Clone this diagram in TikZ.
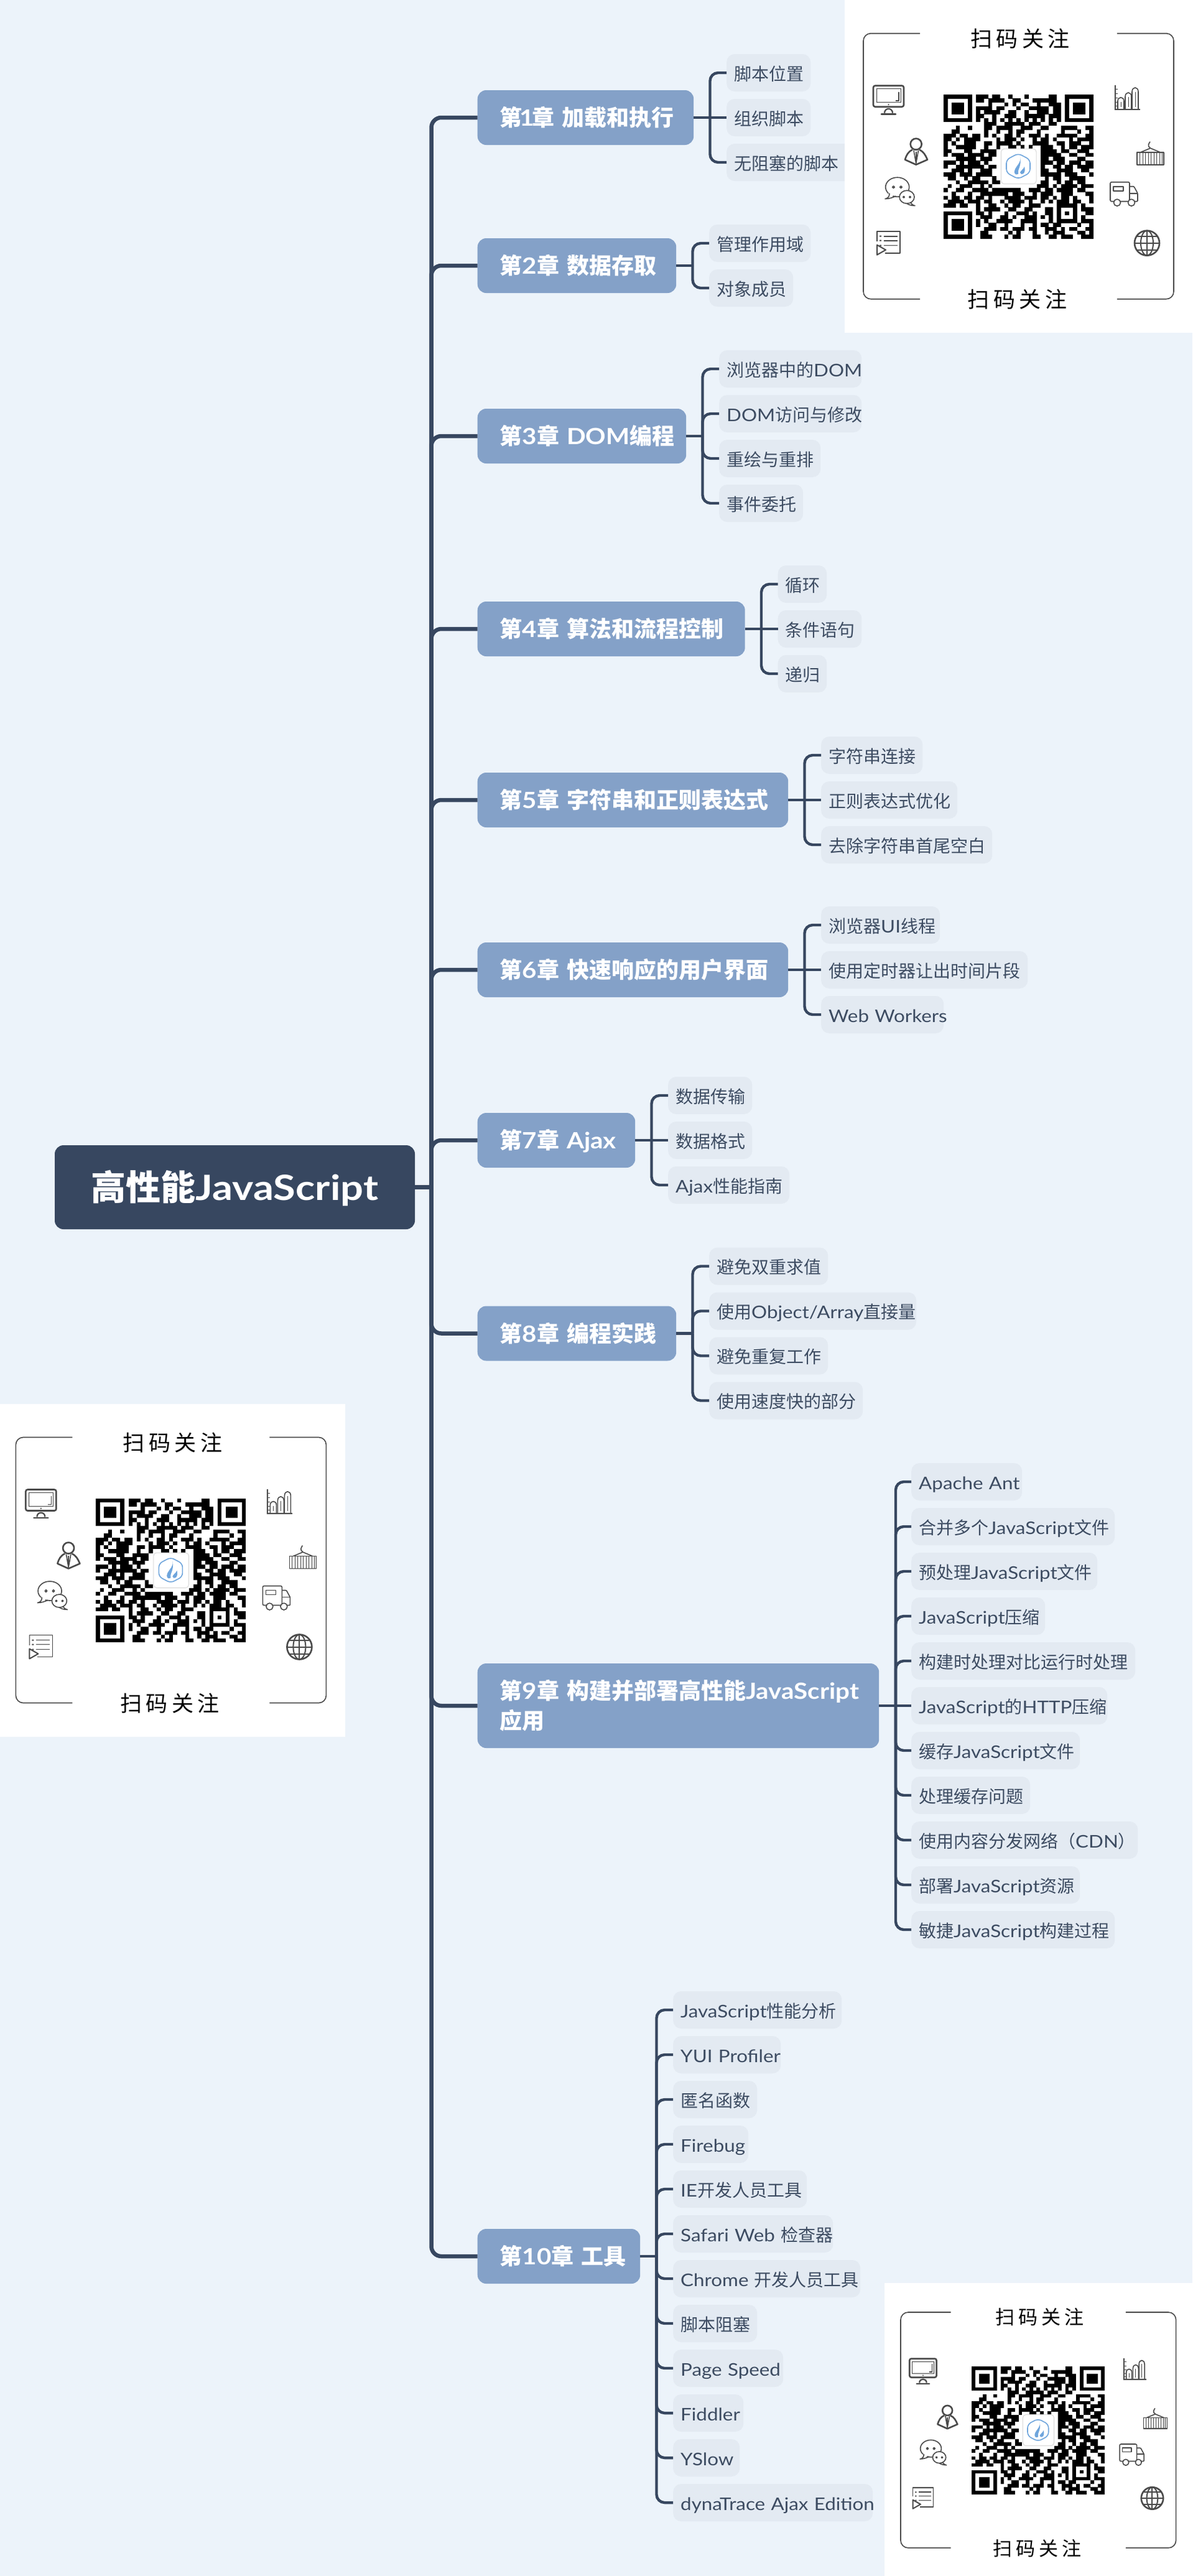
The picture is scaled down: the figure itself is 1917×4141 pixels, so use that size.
\documentclass[tikz,border=0pt]{standalone}
\usepackage{fontspec}
\setmainfont{Lato}[FakeStretch=1.12]
\newfontfamily\rootlat{Lato}[FakeStretch=1.16]
\newfontfamily\cjkf{Noto Sans CJK SC}
\newcommand\Cj[1]{{\cjkf #1}}
\definecolor{bgc}{HTML}{ECF3FA}
\definecolor{leafc}{HTML}{E3EAF2}
\definecolor{chapc}{HTML}{84A1C8}
\definecolor{rootc}{HTML}{374760}
\definecolor{leaft}{HTML}{3D4C62}
\definecolor{icon}{HTML}{4A4A4A}
\definecolor{logoc}{HTML}{6FA5DC}
\tikzset{
  rootbox/.style={rectangle,rounded corners=14pt,fill=rootc,text=white,minimum width=579pt,minimum height=135pt,inner sep=0pt,text height=44pt,text depth=2pt,font=\fontsize{56pt}{60pt}\selectfont\bfseries},
  chbox/.style={rectangle,rounded corners=14pt,fill=chapc,text=white,anchor=west,align=left,inner xsep=36pt,inner ysep=0pt,minimum height=88pt,font=\fontsize{36pt}{48pt}\selectfont\bfseries},
  leafbox/.style={rectangle,rounded corners=13pt,fill=leafc,text=leaft,anchor=west,align=left,inner xsep=12pt,inner ysep=0pt,minimum height=60pt,text height=27pt,text depth=3pt,font=\fontsize{28pt}{30pt}\selectfont},
  trunk/.style={draw=rootc,line width=6.5pt},
  trunkc/.style={draw=rootc,line width=6.5pt,rounded corners=16pt},
  subl/.style={draw=rootc,line width=4.4pt},
  subc/.style={draw=rootc,line width=4.4pt,rounded corners=13pt},
  ic/.style={draw=icon,line width=1.6pt,line join=round},
  ict/.style={draw=icon,line width=.9pt},
  icb/.style={draw=icon,line width=2.6pt,line join=round},
  frameline/.style={draw=icon,line width=1.6pt,rounded corners=12pt},
  qrtitle/.style={inner sep=0pt,text=black,font=\fontsize{35pt}{36pt}\selectfont},
}
% chapter: name, y, right edge, text
\newcommand\chapnode[4]{%
  \pgfmathsetmacro\tw{#3-767.5-72}%
  \node[chbox,text height=30pt,text depth=2.6pt,text width=\tw pt] (#1) at (767.5,#2) {\mbox{#4}};
  \coordinate (#1j) at ({#3+26.5},#2);
  \draw[trunkc] (rootj) |- (#1.west);
  \draw[subl] (#1.east) -- (#1j);
  \def\curname{#1}\def\cury{#2}%
  \pgfmathsetmacro\curleft{#3+53}%
}
% leaf: index, right edge, y, text
\newcommand\leaf[4]{%
  \pgfmathsetmacro\tw{#2-\curleft-24}%
  \node[leafbox,text width=\tw pt] (\curname-#1) at (\curleft,#3) {\mbox{#4}};
  \ifdim #3pt=\cury pt
    \draw[subl] (\curname j) -- (\curname-#1.west);
  \else
    \draw[subc] (\curname j) |- (\curname-#1.west);
  \fi
}
\newcommand\qrdata{%
{0/7,8/3,12/2,16/1,20/1,26/2,30/7},
{0/1,6/1,8/2,11/4,17/2,22/6,30/1,36/1},
{0/1,2/3,6/1,11/1,15/1,17/1,19/2,23/1,26/3,30/1,32/3,36/1},
{0/1,2/3,6/1,8/4,13/2,18/1,21/5,27/2,30/1,32/3,36/1},
{0/1,2/3,6/1,8/1,10/4,16/2,20/1,23/3,27/2,30/1,32/3,36/1},
{0/1,6/1,8/2,12/1,15/3,20/5,26/3,30/1,36/1},
{0/7,8/1,10/1,12/1,14/1,16/1,18/1,20/1,22/1,24/1,26/1,28/1,30/7},
{10/3,15/5,21/3,26/2},
{3/1,6/1,10/2,13/4,19/3,24/2,29/4,35/2},
{2/2,10/1,13/1,16/1,18/2,23/1,29/1,33/1,36/1},
{0/3,4/2,7/2,10/1,12/1,15/2,18/1,21/3,25/1,28/5,35/2},
{0/2,3/1,5/4,13/1,15/3,19/1,22/1,24/2,27/1,31/1,33/2,35/2},
{0/1,2/1,5/3,10/2,13/4,18/1,22/4,28/2,31/3,36/1},
{0/1,3/5,10/1,13/1,16/2,19/1,21/1,24/3,29/1,31/2,34/3},
{0/2,5/2,9/4,24/4,29/2,33/3},
{0/1,2/3,6/4,11/2,24/5,31/2,35/2},
{3/5,9/3,24/2,27/3,33/2},
{0/3,4/1,6/3,10/1,24/3,28/2,31/3,35/2},
{0/1,3/7,11/2,24/1,27/2,30/2,33/4},
{2/3,6/1,9/3,24/2,28/4,34/2},
{0/3,4/3,8/4,24/5,30/3,36/1},
{1/2,5/1,7/2,12/1,25/1,27/2,31/4},
{3/1,6/5,12/2,24/2,28/1,30/2,33/2},
{1/1,4/3,9/1,11/1,23/3,27/1,29/4,34/3},
{0/1,3/2,7/4,12/7,21/3,25/2,28/4,33/2},
{2/1,6/1,9/5,14/2,17/3,22/1,24/3,29/3,35/2},
{0/1,2/2,5/2,8/2,11/1,15/4,20/3,24/2,27/1,29/2,32/1,36/1},
{1/4,6/3,10/2,14/1,16/4,21/1,24/1,26/1,28/3,32/2,36/1},
{0/3,4/2,8/1,11/2,15/1,17/2,21/3,28/5,34/1},
{8/1,10/4,16/2,20/2,25/2,28/1,32/1,34/3},
{0/7,8/2,11/1,15/1,18/3,22/1,25/2,28/1,30/1,32/1,35/2},
{0/1,6/1,9/3,14/2,17/1,20/3,24/1,26/1,28/1,32/1,34/1},
{0/1,2/3,6/1,8/1,10/1,13/4,19/4,26/1,28/5,34/3},
{0/1,2/3,6/1,8/1,11/2,15/1,19/1,22/1,24/2,27/2,33/1,36/1},
{0/1,2/3,6/1,10/3,14/2,17/3,21/2,25/3,29/1,31/2,35/2},
{0/1,6/1,9/2,16/1,18/1,22/1,25/1,27/3,33/2,36/1},
{0/7,9/3,15/1,17/2,22/2,26/2,29/3,34/3}}
% one poster: drawn in frame-relative coordinates
\newcommand\poster[1]{%
  \draw[frameline] (91,0) -- (0,0) -- (0,427) -- (91,427);
  \draw[frameline] (408,0) -- (499,0) -- (499,427) -- (408,427);
  \node[qrtitle] (#1top) at (252,8.5) {\Cj{扫\hspace{6.5pt}码\hspace{6.5pt}关\hspace{6.5pt}注}};
  \node[qrtitle] (#1bot) at (247.5,427.5) {\Cj{扫\hspace{6.5pt}码\hspace{6.5pt}关\hspace{6.5pt}注}};
  % QR code
  \edef\tmpqr{\qrdata}%
  \foreach \rr [count=\yy from 0] in \tmpqr {
    \foreach \s/\l in \rr {
      \fill[black] ({129+\s*6.513},{98.5+\yy*6.25}) rectangle ({129+(\s+\l)*6.513},{98.5+(\yy+1)*6.25+.1});
    }
  }
  % logo
  \fill[white,draw=black!15,line width=1pt,rounded corners=5pt] (221.5,185.5) rectangle (278,242);
  \draw[logoc,line width=1.6pt,rounded corners=6pt] (249,193) -- (268,203) -- (268,224) -- (249,234) -- (230,224) -- (230,203) -- cycle;
  \fill[logoc] (252,199) .. controls (254,207) and (247,212) .. (244,218) .. controls (241,224) and (244,229) .. (249,226) .. controls (247,219) and (255,214) .. (252,199) -- cycle;
  \fill[logoc] (259,214) .. controls (258,218) and (252,221) .. (252,224) .. controls (254,229) and (262,226) .. (259,214) -- cycle;
  % monitor
  \draw[icb,rounded corners=3pt] (16,84) rectangle (65,118);
  \draw[ict] (21,89) rectangle (60,111);
  \draw[ic] (57,94) -- (57,108) -- (52,108);
  \fill[icon] (40.5,114.5) circle (1.2pt);
  \draw[ic,line width=2.2pt] (34,128) .. controls (34,119) and (47,119) .. (47,128);
  \draw[icb,line cap=round] (29,129.5) -- (52,129.5);
  % person
  \draw[icb] (84.7,178) circle (9pt);
  \draw[icb] (79,187) .. controls (72,190) and (69,196) .. (67,203) -- (84.7,211) -- (103,203) .. controls (100,196) and (97,190) .. (90,187);
  \draw[ic] (81,188) -- (84.7,209) -- (88.5,188);
  \draw[ic] (84.7,190) -- (84.7,205);
  % chat
  \draw[ic,fill=white] (54.7,247) ellipse (19pt and 15.5pt);
  \fill[white] (40,257) -- (50,257) -- (47,262) -- (42,262) -- cycle;
  \draw[ic] (42,257) .. controls (42,262) and (40,265) .. (35,266) .. controls (41,266) and (47,264) .. (52,261.5);
  \draw[ic] (48.5,247) circle (1.8pt) (60.5,247) circle (1.8pt);
  \draw[ic,fill=white] (70,263) ellipse (12pt and 10.5pt);
  \draw[ic] (76,272) .. controls (77,274) and (79,276) .. (83,277) .. controls (77,277) and (72,275) .. (70,273.5);
  \draw[ic] (65,263) circle (1.3pt) (75,263) circle (1.3pt);
  % list
  \draw[ic] (22,334) -- (22,318) -- (59,318) -- (59,353) -- (35,353);
  \draw[ic] (33,326) -- (55,326) (33,333) -- (55,333);
  \draw[ict] (33,341) -- (55,341);
  \fill[icon] (26,325) rectangle (29,327) (26,332) rectangle (29,334) (26,340) rectangle (29,342);
  \draw[ic,line width=2pt] (22,340) -- (36,348) -- (22,356) -- cycle;
  % bars
  \draw[ic,line width=2pt] (405,83) -- (405,122) (404,122) -- (445,122);
  \draw[ict] (405,90) -- (409,90) (405,97) -- (409,97) (405,104) -- (409,104) (405,111) -- (409,111) (405,117) -- (409,117);
  \draw[ic] (409,122) -- (409,109) .. controls (409,101) and (419,101) .. (419,109) -- (419,122);
  \draw[ic] (421,122) -- (421,102) .. controls (421,93) and (431,93) .. (431,102) -- (431,122);
  \draw[ic] (432,122) -- (432,94) .. controls (432,85) and (442,85) .. (442,94) -- (442,122);
  \draw[ict] (414,110) -- (414,118) (426,102) -- (426,118) (437,94) -- (437,118);
  % container
  \draw[ic] (440,191) rectangle (483,211);
  \foreach \vx in {444.5,449,453.5,458,462.5,467,471.5,476,480}{\draw[ict] (\vx,191) -- (\vx,211);}
  \draw[ic] (446,191) -- (461.5,184.5) -- (477,191);
  \draw[ic] (461.5,184.5) .. controls (456,181) and (459,177) .. (461,174);
  % truck
  \draw[ic,rounded corners=2pt] (428,270) -- (397,270) -- (397,239) -- (428,239) -- (428,270);
  \draw[ic,rounded corners=1pt] (428,246) -- (435,246) -- (441,257) -- (441,270) -- (428,270);
  \draw[ic] (428,257) -- (441,257);
  \draw[ic] (402,246) rectangle (418,253);
  \draw[ic,fill=white] (408,272) circle (5.5pt);
  \draw[ic,fill=white] (431,272) circle (5.5pt);
  % globe
  \draw[icb] (456,337) circle (20pt);
  \draw[ic,line width=2pt] (456,337) ellipse (10pt and 20pt);
  \draw[ic,line width=2pt] (456,317) -- (456,357) (436,337) -- (476,337);
  \draw[ic,line width=2pt] (440,326) -- (472,326) (440,348) -- (472,348);
}
\begin{document}
\begin{tikzpicture}[x=1pt,y=-1pt]
\useasboundingbox (0,0) rectangle (1917,4141);
\fill[bgc] (0,0) rectangle (1917,4141);
\node[rootbox] (root) at (377.5,1908.5) {\Cj{高性能}{\rootlat JavaScript}};
\coordinate (rootj) at (693.5,1908.5);
\draw[trunk] (root.east) -- (rootj);

\chapnode{a}{189}{1115}{\Cj{第}\kern-4pt 1\kern-4pt\Cj{章 加载和执行}}
\leaf{1}{1303}{117}{\Cj{脚本位置}}
\leaf{2}{1303}{189}{\Cj{组织脚本}}
\leaf{3}{1376}{261}{\Cj{无阻塞的脚本}}

\chapnode{b}{427}{1087}{\Cj{第}2\Cj{章 数据存取}}
\leaf{1}{1303}{391}{\Cj{管理作用域}}
\leaf{2}{1275}{463}{\Cj{对象成员}}

\chapnode{c}{701}{1103}{\Cj{第}3\Cj{章 }DOM\Cj{编程}}
\leaf{1}{1385}{593}{\Cj{浏览器中的}DOM}
\leaf{2}{1385}{665}{DOM\Cj{访问与修改}}
\leaf{3}{1319}{737}{\Cj{重绘与重排}}
\leaf{4}{1291}{809}{\Cj{事件委托}}

\chapnode{d}{1011}{1197.5}{\Cj{第}4\Cj{章 算法和流程控制}}
\leaf{1}{1329}{939}{\Cj{循环}}
\leaf{2}{1385}{1011}{\Cj{条件语句}}
\leaf{3}{1329}{1083}{\Cj{递归}}

\chapnode{e}{1286}{1267}{\Cj{第}5\Cj{章 字符串和正则表达式}}
\leaf{1}{1483}{1214}{\Cj{字符串连接}}
\leaf{2}{1539}{1286}{\Cj{正则表达式优化}}
\leaf{3}{1595}{1358}{\Cj{去除字符串首尾空白}}

\chapnode{f}{1559}{1267}{\Cj{第}6\Cj{章 快速响应的用户界面}}
\leaf{1}{1511}{1487}{\Cj{浏览器}UI\Cj{线程}}
\leaf{2}{1652}{1559}{\Cj{使用定时器让出时间片段}}
\leaf{3}{1517}{1631}{Web Workers}

\chapnode{g}{1833}{1021}{\Cj{第}7\Cj{章 }Ajax}
\leaf{1}{1209}{1761}{\Cj{数据传输}}
\leaf{2}{1209}{1833}{\Cj{数据格式}}
\leaf{3}{1269}{1905}{Ajax\Cj{性能指南}}

\chapnode{h}{2143.5}{1087}{\Cj{第}8\Cj{章 编程实践}}
\leaf{1}{1331}{2035.5}{\Cj{避免双重求值}}
\leaf{2}{1473}{2107.5}{\Cj{使用}Object/Array\Cj{直接量}}
\leaf{3}{1331}{2179.5}{\Cj{避免重复工作}}
\leaf{4}{1387}{2251.5}{\Cj{使用速度快的部分}}

\pgfmathsetmacro\tw{1413-767.5-72}
\node[chbox,minimum height=136pt,text width=\tw pt] (i) at (767.5,2742) {\mbox{\Cj{第}9\Cj{章 构建并部署高性能}JavaScript}\\[0pt]\Cj{应用}};
\coordinate (ij) at (1440,2742);
\draw[trunkc] (rootj) |- (i.west);
\draw[subl] (i.east) -- (ij);
\def\curname{i}\def\cury{2742}\def\curleft{1465}
\leaf{1}{1643}{2382}{Apache Ant}
\leaf{2}{1792}{2454}{\Cj{合并多个}JavaScript\Cj{文件}}
\leaf{3}{1764}{2526}{\Cj{预处理}JavaScript\Cj{文件}}
\leaf{4}{1680}{2598}{JavaScript\Cj{压缩}}
\leaf{5}{1825}{2670}{\Cj{构建时处理对比运行时处理}}
\leaf{6}{1780}{2742}{JavaScript\Cj{的}HTTP\Cj{压缩}}
\leaf{7}{1736}{2814}{\Cj{缓存}JavaScript\Cj{文件}}
\leaf{8}{1656}{2886}{\Cj{处理缓存问题}}
\leaf{9}{1829}{2958}{\Cj{使用内容分发网络（}CDN\Cj{）}}
\leaf{10}{1736}{3030}{\Cj{部署}JavaScript\Cj{资源}}
\leaf{11}{1792}{3102}{\Cj{敏捷}JavaScript\Cj{构建过程}}

\chapnode{j}{3627}{1029}{\Cj{第}10\Cj{章 工具}}
\leaf{1}{1353}{3231}{JavaScript\Cj{性能分析}}
\leaf{2}{1255}{3303}{YUI Profiler}
\leaf{3}{1217}{3375}{\Cj{匿名函数}}
\leaf{4}{1203}{3447}{Firebug}
\leaf{5}{1297}{3519}{IE\Cj{开发人员工具}}
\leaf{6}{1339}{3591}{Safari Web \Cj{检查器}}
\leaf{7}{1383}{3663}{Chrome \Cj{开发人员工具}}
\leaf{8}{1217}{3735}{\Cj{脚本阻塞}}
\leaf{9}{1259}{3807}{Page Speed}
\leaf{10}{1195}{3879}{Fiddler}
\leaf{11}{1189}{3951}{YSlow}
\leaf{12}{1403}{4023}{dynaTrace Ajax Edition}

\fill[white] (1358,0) rectangle (1917,534.5);
\begin{scope}[shift={(1388,53.7)}]\poster{pa}\end{scope}
\fill[white] (0,2257) rectangle (555,2792);
\begin{scope}[shift={(25.4,2310.5)}]\poster{pb}\end{scope}
\fill[white] (1422,3670) rectangle (1917,4141);
\begin{scope}[shift={(1448,3717)},scale=.887,transform shape]\poster{pc}\end{scope}
\end{tikzpicture}
\end{document}
